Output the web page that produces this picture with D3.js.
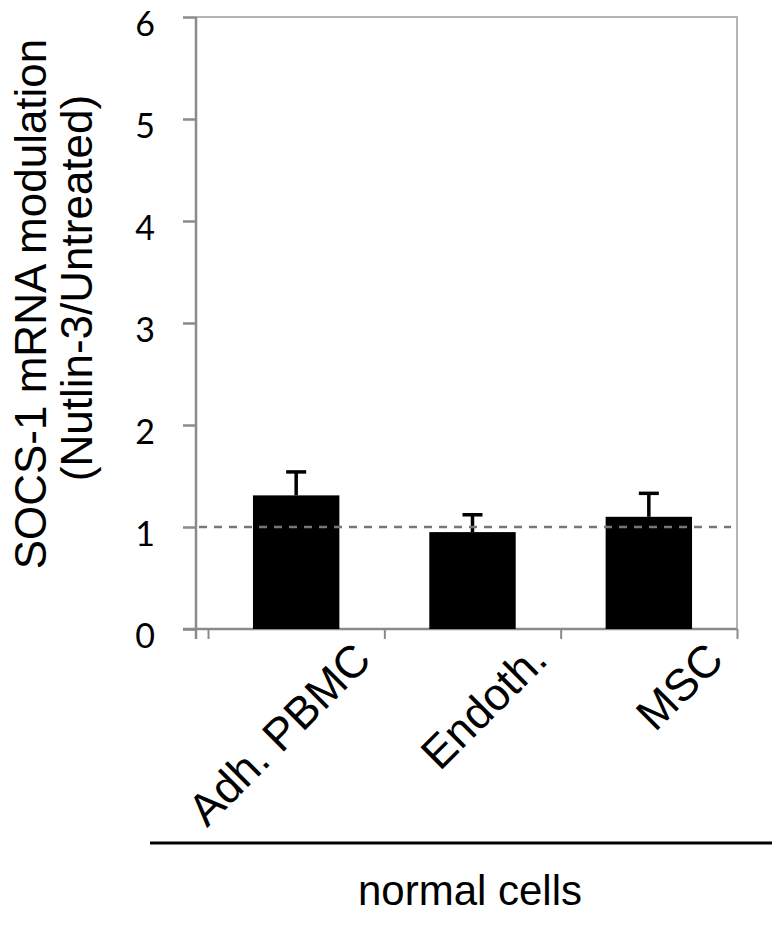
<!DOCTYPE html>
<meta charset="utf-8">
<html>
<head>
<script src="https://d3js.org/d3.v7.min.js"></script>
<style>
body { margin: 0; background: white; }
</style>
</head>
<body>
<div id="chart"></div>
<script>

// data
var categories = ["Adh. PBMC", "Endoth.", "MSC"];
var means = [1.31, 0.95, 1.10];
var errors = [0.23, 0.17, 0.23];
var yTicks = [0, 1, 2, 3, 4, 5, 6];
var yTitle = ["SOCS-1 mRNA modulation", "(Nutlin-3/Untreated)"];
var groupLabel = "normal cells";
var baseline = 1;

var W = 774, H = 926;
var plot = {left: 196, right: 737, top: 17, bottom: 629, xStart: 208};

var svg = d3.select("#chart").append("svg")
    .attr("width", W)
    .attr("height", H);

var y = d3.scaleLinear().domain([0, 6]).range([plot.bottom, plot.top]);
var x = d3.scaleBand().domain(categories).range([plot.xStart, plot.right]).padding(0);
var xEdge = d3.scaleLinear().domain([0, categories.length]).range([plot.xStart, plot.right]);
var barW = x.bandwidth() * 0.49;

// frame top + right
svg.append("path")
    .attr("d", "M" + plot.left + "," + y(6) + "H" + plot.right + "V" + plot.bottom)
    .attr("fill", "none")
    .attr("stroke", "#b4b4b4")
    .attr("stroke-width", 2);

// y axis
var yAxis = svg.append("g")
    .attr("transform", "translate(" + plot.left + ",0)")
    .call(d3.axisLeft(y).tickValues(yTicks).tickSize(13).tickSizeOuter(0).tickFormat(d3.format("d")));
yAxis.select(".domain").attr("stroke", "#8a8a8a").attr("stroke-width", 2.5)
    .attr("d", "M0," + y(6) + "V" + (plot.bottom + 10));
yAxis.selectAll(".tick line").attr("stroke", "#8a8a8a").attr("stroke-width", 2.5);
yAxis.selectAll(".tick text")
    .attr("x", -41)
    .attr("dy", "0.55em")
    .style("font-family", "Lato, 'Open Sans', sans-serif")
    .style("font-size", "34px")
    .attr("fill", "black");

// x axis
var xAxis = svg.append("g")
    .attr("transform", "translate(0," + plot.bottom + ")")
    .call(d3.axisBottom(xEdge).tickValues(d3.range(categories.length + 1)).tickSize(10).tickSizeOuter(0).tickFormat(""));
xAxis.select(".domain").attr("stroke", "#8a8a8a").attr("stroke-width", 2.5)
    .attr("d", "M" + (plot.left - 13) + ",0H" + plot.right);
xAxis.selectAll(".tick line").attr("stroke", "#8a8a8a").attr("stroke-width", 2);

// bars
svg.append("g").selectAll("rect")
    .data(categories)
    .enter()
    .append("rect")
      .attr("x", function(d) { return x(d) + (x.bandwidth() - barW) / 2; })
      .attr("y", function(d, i) { return y(means[i]); })
      .attr("width", barW)
      .attr("height", function(d, i) { return y(0) - y(means[i]); })
      .attr("fill", "black");

// error bars (upper only)
var eb = svg.append("g").attr("stroke", "black").attr("stroke-width", 3.5);
eb.selectAll("line.v")
    .data(categories)
    .enter()
    .append("line")
      .attr("class", "v")
      .attr("x1", function(d) { return x(d) + x.bandwidth() / 2; })
      .attr("x2", function(d) { return x(d) + x.bandwidth() / 2; })
      .attr("y1", function(d, i) { return y(means[i]); })
      .attr("y2", function(d, i) { return y(means[i] + errors[i]); });
eb.selectAll("line.cap")
    .data(categories)
    .enter()
    .append("line")
      .attr("class", "cap")
      .attr("x1", function(d) { return x(d) + x.bandwidth() / 2 - 10; })
      .attr("x2", function(d) { return x(d) + x.bandwidth() / 2 + 10; })
      .attr("y1", function(d, i) { return y(means[i] + errors[i]); })
      .attr("y2", function(d, i) { return y(means[i] + errors[i]); });

// dashed reference line at 1
svg.append("line")
    .attr("x1", plot.left + 3)
    .attr("x2", plot.right - 6)
    .attr("y1", y(baseline))
    .attr("y2", y(baseline))
    .attr("stroke", "#777")
    .attr("stroke-width", 2.5)
    .attr("stroke-dasharray", "8,7");

// category labels, rotated
svg.append("g").selectAll("text")
    .data(categories)
    .enter()
    .append("text")
      .attr("transform", function(d) {
        return "translate(" + (x(d) + x.bandwidth() / 2 + 77) + "," + (plot.bottom + 33) + ") rotate(-45)";
      })
      .attr("text-anchor", "end")
      .style("font-family", "'Liberation Sans', Arial, sans-serif")
      .style("font-size", "45px")
      .text(function(d) { return d; });

// y title
var titleY = [304, 288];
svg.append("g").selectAll("text")
    .data(yTitle)
    .enter()
    .append("text")
      .attr("transform", function(d, i) { return "translate(" + (46 + i * 46) + "," + titleY[i] + ") rotate(-90)"; })
      .attr("text-anchor", "middle")
      .style("font-family", "'Liberation Sans', Arial, sans-serif")
      .style("font-size", "44px")
      .text(function(d) { return d; });

// group line + label
svg.append("line")
    .attr("x1", 150).attr("x2", 772)
    .attr("y1", 843).attr("y2", 843)
    .attr("stroke", "black")
    .attr("stroke-width", 3);
svg.append("text")
    .attr("x", 470)
    .attr("y", 905)
    .attr("text-anchor", "middle")
    .style("font-family", "'Liberation Sans', Arial, sans-serif")
    .style("font-size", "42px")
    .text(groupLabel);

</script>
</body>
</html>
